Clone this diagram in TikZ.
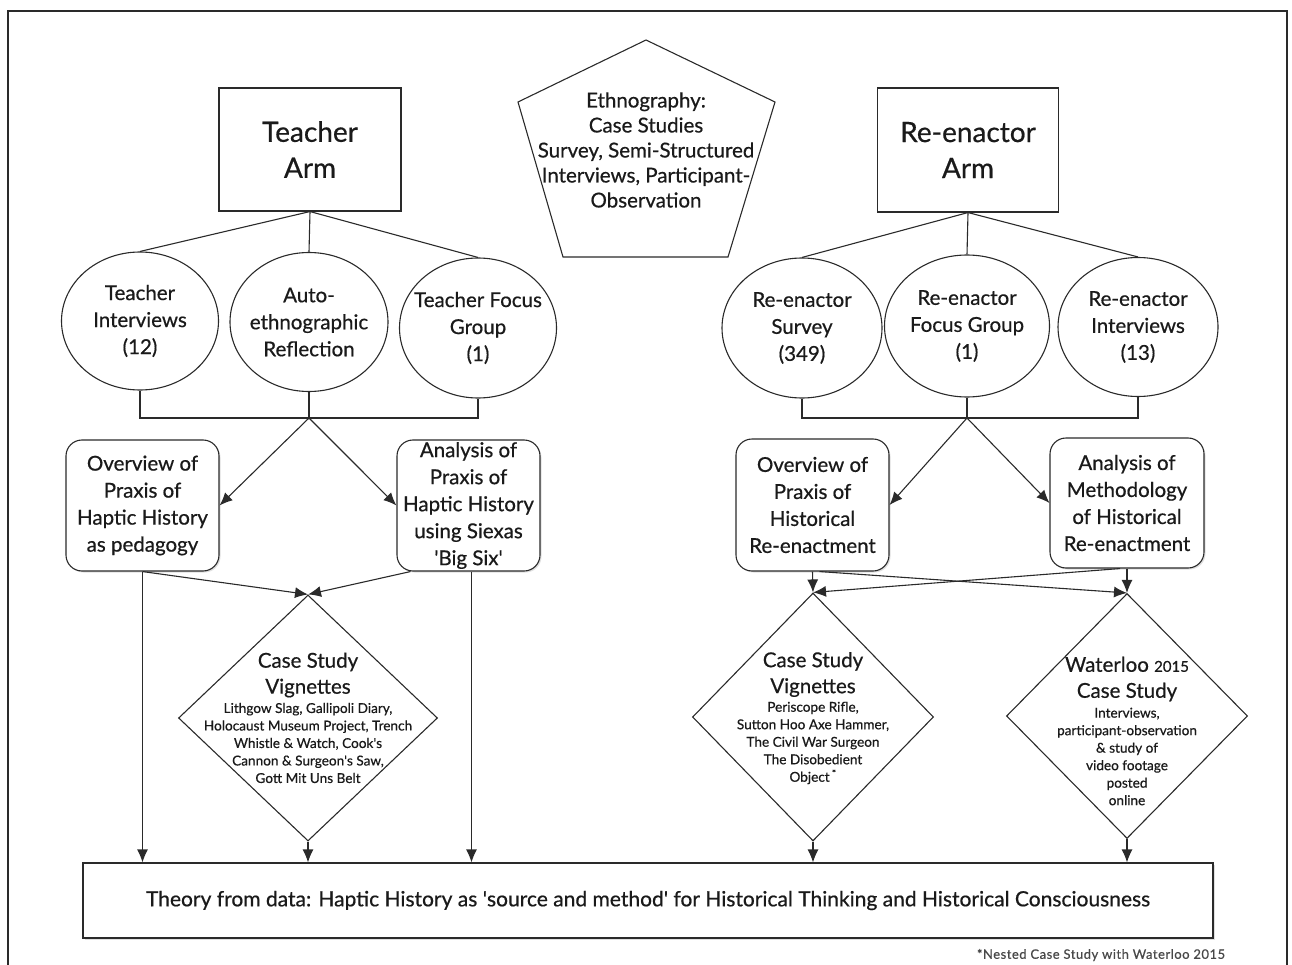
\documentclass[tikz,border=0pt]{standalone}
\usepackage{fontspec}
\setmainfont{Lato}[FakeBold=0.6]
\usetikzlibrary{shapes.geometric,arrows.meta,calc,shadows}

\definecolor{inkline}{HTML}{2A2A2A}
\definecolor{inktext}{HTML}{1A1A1A}

\tikzset{
  lineset/.style={draw=inkline, line width=1.1pt},
  arr/.style={lineset, -{Latex[length=13pt,width=11pt]}},
  frameline/.style={draw=inkline, line width=1.5pt},
  softshadow/.style={drop shadow={shadow xshift=1.5pt, shadow yshift=-1.5pt, opacity=0.25}},
  armbox/.style={rectangle, lineset, inner sep=0pt, align=center,
    text=inktext, font=\fontsize{28}{36}\selectfont},
  oval/.style={ellipse, lineset, inner sep=0pt},
  otext/.style={align=center, text=inktext, font=\fontsize{20.5}{27}\selectfont},
  rbox/.style={rectangle, rounded corners=16pt, lineset, fill=white, softshadow,
    inner sep=0pt, align=center, text=inktext, font=\fontsize{20.5}{27}\selectfont},
  dia/.style={diamond, lineset, inner sep=0pt},
  dtitle/.style={align=center, text=inktext, font=\fontsize{20.5}{26}\selectfont},
  dbody/.style={align=center, text=inktext, font=\fontsize{13.6}{17.5}\selectfont},
  ptext/.style={align=center, text=inktext, font=\fontsize{20.5}{25}\selectfont},
  thbox/.style={rectangle, lineset, fill=white, softshadow, inner sep=0pt, text=inktext,
    minimum width=1130pt, minimum height=75pt, font=\fontsize{21}{24}\selectfont},
  note/.style={text=inktext!80, font=\fontsize{13}{15}\selectfont\addfontfeature{LetterSpace=4}},
}

\begin{document}
\begin{tikzpicture}[x=1pt,y=-1pt]
\useasboundingbox (0,0) rectangle (1292,965);
\clip (0,0) rectangle (1292,965);

% outer frame (runs off the bottom edge)
\draw[frameline] (8,990) -- (8,11) -- (1287,11) -- (1287,990);

% the two arms
\node[armbox, minimum width=182pt, minimum height=123pt] (arm1) at (310,149.5) {Teacher\\Arm};
\node[armbox, minimum width=181pt, minimum height=124pt] (arm2) at (968,150) {Re-enactor\\Arm};

% ethnography pentagon
\draw[lineset] (646,40) -- (775,102) -- (728,257) -- (563,257) -- (518,102) -- cycle;
\node[ptext] (eth) at (646,150) {Ethnography:\\Case Studies\\Survey, Semi-Structured\\Interviews, Participant-\\Observation};

% data sources
\node[oval, minimum width=157pt, minimum height=138pt] (c1) at (140,321) {};
\node[oval, minimum width=158pt, minimum height=139pt] (c2) at (309,322) {};
\node[oval, minimum width=157pt, minimum height=140pt] (c3) at (478,328) {};
\node[oval, minimum width=160pt, minimum height=140pt] (c4) at (802,328) {};
\node[oval, minimum width=165pt, minimum height=142pt] (c5) at (967,326) {};
\node[oval, minimum width=160pt, minimum height=139pt] (c6) at (1138,327) {};

\node[otext] (t1) at (c1) {Teacher\\Interviews\\(12)};
\node[otext] (t2) at (c2) {Auto-\\ethnographic\\Reflection};
\node[otext] (t3) at (c3) {Teacher Focus\\Group\\(1)};
\node[otext] (t4) at (c4) {Re-enactor\\Survey\\(349)};
\node[otext] (t5) at (c5) {Re-enactor\\Focus Group\\(1)};
\node[otext] (t6) at (c6) {Re-enactor\\Interviews\\(13)};

\draw[lineset] (arm1.south) -- (c1.north);
\draw[lineset] (arm1.south) -- (c2.north);
\draw[lineset] (arm1.south) -- (c3.north);
\draw[lineset] (arm2.south) -- (c4.north);
\draw[lineset] (arm2.south) -- (c5.north);
\draw[lineset] (arm2.south) -- (c6.north);

% collecting brackets
\coordinate (tj) at (309,418);
\coordinate (rj) at (967,418);
\draw[lineset] (c1.south) |- (tj) -| (c3.south);
\draw[lineset] (c2.south) -- (tj);
\draw[lineset] (c4.south) |- (rj) -| (c6.south);
\draw[lineset] (c5.south) -- (rj);

% analysis boxes
\node[rbox, minimum width=153pt, minimum height=131pt] (ov1) at (142.5,505.5) {Overview of\\Praxis of\\Haptic History\\as pedagogy};
\node[rbox, minimum width=143pt, minimum height=131pt] (an1) at (468.5,505.5) {Analysis of\\Praxis of\\Haptic History\\using Siexas\\\textquotesingle Big Six\textquotesingle};
\node[rbox, minimum width=153pt, minimum height=132pt] (ov2) at (812.5,505) {Overview of\\Praxis of\\Historical\\Re-enactment};
\node[rbox, minimum width=154pt, minimum height=130pt] (an2) at (1127,503) {Analysis of\\Methodology\\of Historical\\Re-enactment};

\draw[arr] (tj) -- (ov1.east);
\draw[arr] (tj) -- (an1.west);
\draw[arr] (rj) -- (ov2.east);
\draw[arr] (rj) -- (an2.west);

% case study diamonds
\node[dia, minimum width=259pt, minimum height=246pt] (d1) at (308,718) {};
\node[dia, minimum width=241pt, minimum height=248pt] (d2) at (813,717) {};
\node[dia, minimum width=241pt, minimum height=245pt] (d3) at (1127,716) {};

\node[dtitle] (d1t) at (308,675) {Case Study\\Vignettes};
\node[dbody] (d1b) at (308,743) {Lithgow Slag, Gallipoli Diary,\\Holocaust Museum Project, Trench\\Whistle \& Watch, Cook\textquotesingle s\\Cannon \& Surgeon\textquotesingle s Saw,\\Gott Mit Uns Belt};
\node[dtitle] (d2t) at (813,674.5) {Case Study\\Vignettes};
\node[dbody] (d2b) at (813,743) {Periscope Rifle,\\Sutton Hoo Axe Hammer,\\The Civil War Surgeon\\The Disobedient\\Object\,\textsuperscript{*}};
\node[dtitle] (d3t) at (1127,679) {Waterloo {\fontsize{15}{26}\selectfont 2015}\\Case Study};
\node[dbody] (d3b) at (1127,756.5) {Interviews,\\participant-observation\\\& study of\\video footage\\posted\\online};

\draw[arr] (ov1.south) -- (d1.north);
\draw[arr] ([xshift=-58pt]an1.south) -- (d1.north);
\draw[arr] (ov2.south) -- (d2.north);
\draw[arr] ([xshift=-7pt]an2.south) -- (d2.north);
\draw[arr] ([xshift=7pt]ov2.south) -- (d3.north);
\draw[arr] (an2.south) -- (d3.north);

% theory
\node[thbox] (th) at (648,900.5) {Theory from data: Haptic History as \textquotesingle source and method\textquotesingle{} for Historical Thinking and Historical Consciousness};

\draw[arr] (ov1.south) -- (ov1.south |- th.north);
\draw[arr] (d1.south) -- (d1.south |- th.north);
\draw[arr] ([xshift=3pt]an1.south) -- ([xshift=3pt]an1.south |- th.north);
\draw[arr] (d2.south) -- (d2.south |- th.north);
\draw[arr] (d3.south) -- (d3.south |- th.north);

\node[note] (fn) at (1101,955) {*Nested Case Study with Waterloo 2015};
\end{tikzpicture}
\end{document}
